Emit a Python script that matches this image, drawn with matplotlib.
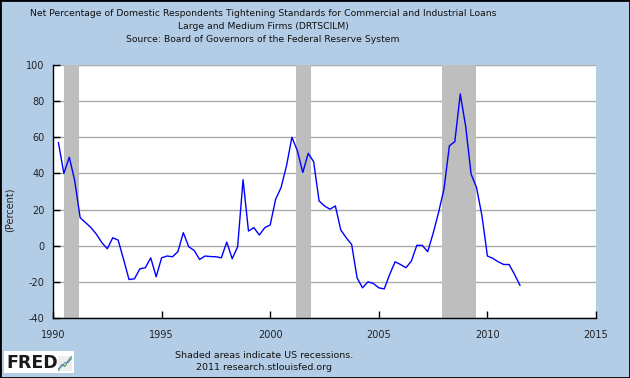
#!/usr/bin/env python3
import matplotlib as mpl
mpl.use('Agg')
import matplotlib.pyplot as plt
from matplotlib.patches import Rectangle

# quarterly observations, first one is 1990 Q2
start_year = 1990.25
values = [57, 40, 49, 36, 15.5, 12.8, 10, 6.3, 1.7, -1.7,
          4.4, 3.1, -7.6, -18.7, -18.3, -12.8, -12.2, -6.7, -17.2, -6.7,
          -5.7, -6.1, -3.3, 7.2, -0.6, -2.6, -7.6, -5.7, -6, -6.1,
          -6.7, 2, -7.2, -0.6, 36.5, 8.1, 10, 5.9, 10, 11.5,
          25.7, 32.2, 44.2, 60, 52.6, 40.5, 51.1, 46.5, 24.8, 22,
          20.2, 22, 8.7, 4.4, 0.7, -17.8, -23.3, -20, -20.9, -23.3,
          -23.9, -15.9, -8.9, -10.4, -12.2, -8.5, 0.2, 0.2, -3.3, 6.8,
          18.3, 31.3, 55.3, 57.6, 84, 66, 39.6, 32.2, 16.5, -5.7,
          -7, -8.9, -10.4, -10.4, -15.9, -21.9]
dates = [start_year + 0.25 * i for i in range(len(values))]

rec_start = [1990.5, 2001.17, 2007.92]
rec_end = [1991.2, 2001.89, 2009.47]

title_lines = ['Net Percentage of Domestic Respondents Tightening Standards for Commercial and Industrial Loans',
               'Large and Medium Firms (DRTSCILM)',
               'Source: Board of Governors of the Federal Reserve System']

bg = '#B4CDE6'
dpi = 100
fig = plt.figure(dpi=dpi, figsize=(630 / dpi, 378 / dpi), facecolor=bg)
mpl.rcParams.update({'font.size': 7, 'font.family': 'DejaVu Sans',
                     'axes.unicode_minus': False})

ax = fig.add_axes([53 / 630, 1 - 318 / 378, 543 / 630, 253 / 378])
ax.set_facecolor('white')

ax.set_xlim(1990, 2015)
ax.set_ylim(-40, 100)
ax.set_xticks(range(1990, 2016, 5))
ax.set_yticks(range(-40, 101, 20))
ax.yaxis.grid(True, color='#AAAAAA', linewidth=1, zorder=1)
ax.set_axisbelow(True)

for s, e in zip(rec_start, rec_end):
    ax.axvspan(s, e, color='#BEBEBE', linewidth=0, zorder=2)

ax.plot(dates, values, color='#0000FF', linewidth=1, zorder=3)

for side in ['top', 'right']:
    ax.spines[side].set_visible(False)
for side in ['left', 'bottom']:
    ax.spines[side].set_color('black')
    ax.spines[side].set_linewidth(1)
ax.tick_params(direction='in', length=5, width=1, color='black',
               labelsize=7, labelcolor='#222222')
ax.tick_params(axis='y', pad=6)
ax.tick_params(axis='x', pad=9)

fig.text(10 / 630, 1 - 210 / 378, '(Percent)', rotation=90,
         ha='center', va='center', fontsize=7, color='#222222')

for k, line in enumerate(title_lines):
    fig.text(263 / 630, 1 - (14 + 12.5 * k) / 378, line,
             ha='center', va='center', fontsize=6.7, color='#111111')

fig.text(264 / 630, 1 - 355 / 378, 'Shaded areas indicate US recessions.',
         ha='center', va='center', fontsize=6.8, color='#111111')
fig.text(264 / 630, 1 - 367.5 / 378, '2011 research.stlouisfed.org',
         ha='center', va='center', fontsize=6.8, color='#111111')

# FRED logo box
fig.patches.append(Rectangle((4 / 630, 1 - 373 / 378), 70 / 630, 22 / 378,
                             transform=fig.transFigure, facecolor='white',
                             edgecolor='none', zorder=1))
fig.text(6 / 630, 1 - 362.5 / 378, 'FRED', fontsize=12.5, fontweight='heavy',
         ha='left', va='center', color='#1a1a1a', zorder=3)
icon = fig.add_axes([58 / 630, 1 - 371 / 378, 14 / 630, 15 / 378])
icon.set_zorder(4)
icon.set_facecolor('#EEEEEE')
icon.plot([0, 1, 2, 3, 4], [0, 1.5, 1, 2.5, 3.5], color='#3A9A3A', linewidth=0.8)
icon.plot([0, 1, 2, 3, 4], [0.5, 1, 2, 2, 3], color='#6A8AC8', linewidth=0.8)
icon.set_xticks([])
icon.set_yticks([])
for s in icon.spines.values():
    s.set_visible(False)

# outer border
fig.patches.append(Rectangle((0, 0), 1, 1, transform=fig.transFigure,
                             facecolor='none', edgecolor='black', linewidth=2,
                             zorder=5))

fig.savefig('out.png', dpi=dpi, facecolor=bg)
